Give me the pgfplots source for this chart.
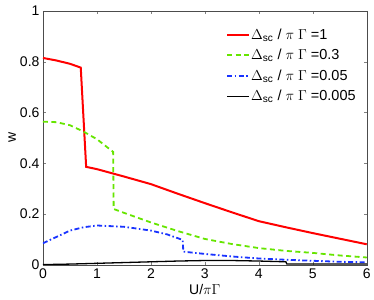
\documentclass[border=0pt]{standalone}
\usepackage{pgfplots}
\pgfplotsset{compat=1.18}
\usepackage{fontspec}
\setmainfont{Liberation Sans}
\definecolor{myred}{rgb}{1,0,0}
\definecolor{mygreen}{rgb}{0.4,0.9,0}
\definecolor{myblue}{rgb}{0.1,0.2,1}
\begin{document}
\begin{tikzpicture}
\begin{axis}[
  scale only axis,
  width=324pt, height=254pt,
  xmin=0, xmax=6, ymin=0, ymax=1,
  xtick={0,1,2,3,4,5,6},
  ytick={0,0.2,0.4,0.6,0.8,1},
  tick align=inside,
  major tick length=3pt,
  /pgf/number format/fixed,
  /pgf/number format/assume math mode=true,
  tick label style={font=\fontsize{14}{16}\selectfont},
  label style={font=\fontsize{14}{16}\selectfont},
  xlabel={U/$\pi\Gamma$},
  ylabel={w},
  xlabel style={at={(axis description cs:0.5,0)}, anchor=north, inner sep=0pt, yshift=-19pt},
  ylabel style={at={(axis description cs:-0.095,0.5)}, anchor=center, inner sep=0pt},
  axis line style={black!70},
  legend style={draw=none, fill=none, at={(0.565,0.935)}, anchor=north west,
     font=\fontsize{14.5}{16}\selectfont, row sep=6.5pt, inner sep=0pt,
     nodes={inner sep=1pt}},
  legend cell align=left,
  legend image code/.code={\draw[#1] (0pt,0pt) -- (22pt,0pt);},
]
\addplot[myred, line width=2pt] coordinates {
 (0,0.815) (0.25,0.805) (0.5,0.792) (0.7,0.777) (0.8,0.386) (1,0.377) (1.5,0.348) (2,0.318) (2.5,0.28) (3,0.243) (3.5,0.207) (4,0.172) (4.5,0.148) (5,0.125) (5.5,0.103) (6,0.081)};
\addlegendentry{$\Delta$\textsubscript{sc} / $\pi$ $\Gamma$ =1}
\addplot[mygreen, line width=1.8pt, dash pattern=on 5pt off 3.5pt] coordinates {
 (0,0.564) (0.25,0.562) (0.5,0.55) (0.75,0.525) (1,0.495) (1.3,0.445) (1.31,0.22) (1.5,0.205) (2,0.167) (2.5,0.133) (3,0.102) (3.5,0.082) (4,0.066) (4.5,0.055) (5,0.047) (5.5,0.037) (6,0.029)};
\addlegendentry{$\Delta$\textsubscript{sc} / $\pi$ $\Gamma$ =0.3}
\addplot[myblue, line width=1.8pt, dash pattern=on 5pt off 2.5pt on 1.5pt off 2.5pt] coordinates {
 (0,0.085) (0.25,0.11) (0.5,0.135) (0.75,0.148) (1,0.155) (1.5,0.15) (2,0.135) (2.3,0.12) (2.59,0.098) (2.6,0.052) (3,0.043) (3.5,0.033) (4,0.025) (4.5,0.02) (5,0.016) (5.5,0.012) (6,0.01)};
\addlegendentry{$\Delta$\textsubscript{sc} / $\pi$ $\Gamma$ =0.05}
\addplot[black, line width=1.3pt] coordinates {
 (0,0.001) (0.5,0.003) (1,0.006) (1.5,0.009) (2,0.012) (2.5,0.015) (3,0.017) (3.5,0.017) (4,0.015) (4.5,0.012) (4.52,0.003) (5,0.003) (6,0.003)};
\addlegendentry{$\Delta$\textsubscript{sc} / $\pi$ $\Gamma$ =0.005}
\end{axis}
\path (current axis.south west) ++(-43pt,-35pt);
\path (current axis.north east) ++(7pt,11pt);
\end{tikzpicture}
\end{document}
